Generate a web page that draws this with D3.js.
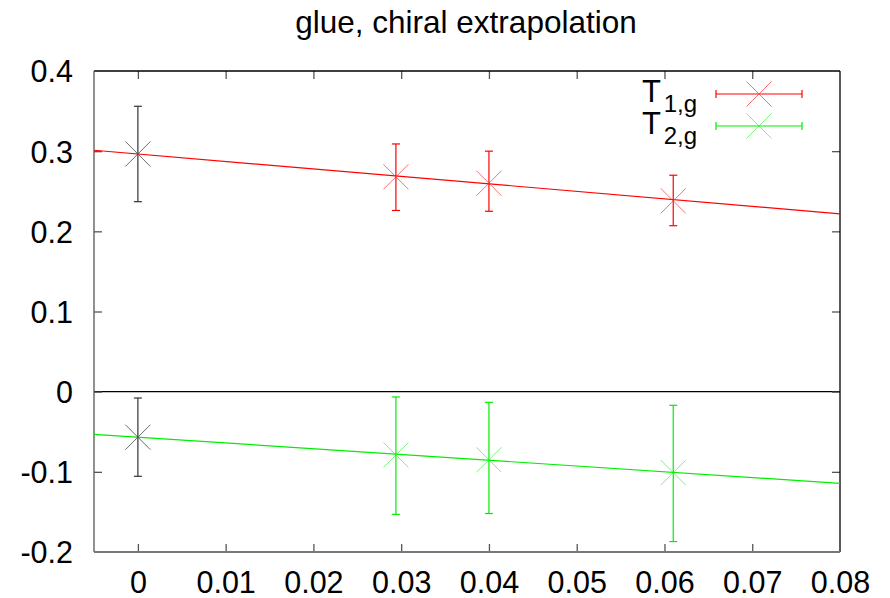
<!DOCTYPE html>
<html><head><meta charset="utf-8">
<script src="https://cdn.jsdelivr.net/npm/d3@7"></script>
<style>body{margin:0;background:#fff}svg{display:block}text{font-family:"Liberation Sans",Arial,sans-serif}</style>
</head><body><svg id="c" width="890" height="598"></svg>
<script>
// data
const xTicks = [0, 0.01, 0.02, 0.03, 0.04, 0.05, 0.06, 0.07, 0.08];
const yTicks = [-0.2, -0.1, 0, 0.1, 0.2, 0.3, 0.4];
const xDomain = [-0.005, 0.08];
const yDomain = [-0.2, 0.4];
const t1x = [0.0294, 0.0400, 0.0610];
const t1y = [0.268, 0.260, 0.238];
const t1lo = [0.226, 0.225, 0.207];
const t1hi = [0.309, 0.300, 0.270];
const t2x = [0.0294, 0.0400, 0.0610];
const t2y = [-0.079, -0.085, -0.101];
const t2lo = [-0.153, -0.152, -0.187];
const t2hi = [-0.0066, -0.0133, -0.017];
const chiralX = [0, 0];
const chiralY = [0.2965, -0.0568];
const chiralLo = [0.237, -0.1056];
const chiralHi = [0.356, -0.0079];
const fit1 = {a: 0.2965, b: -0.933};
const fit2 = {a: -0.0568, b: -0.719};
const title = "glue, chiral extrapolation";
const legendSubs = ["1,g", "2,g"];

const svg = d3.select("#c");
const L = 94, R = 840, T = 71, B = 552;
const x = d3.scaleLinear().domain(xDomain).range([L, R]);
const y = d3.scaleLinear().domain(yDomain).range([B, T]);
const FONT = '"Liberation Sans",Arial,sans-serif';

// title
svg.append("text").attr("x", (L + R) / 2 - 1).attr("y", 33).attr("text-anchor", "middle")
  .attr("font-size", 31.5).text(title);

// zero line
svg.append("line").attr("x1", L).attr("x2", R).attr("y1", y(0)).attr("y2", y(0))
  .attr("stroke", "#000").attr("stroke-width", 1.2);

// axes
const tl = 8;
const fmt = d => String(d);
const gx = svg.append("g").attr("transform", `translate(0,${B})`)
  .call(d3.axisBottom(x).tickValues(xTicks).tickSize(-tl).tickPadding(19).tickFormat(fmt));
const gxt = svg.append("g").attr("transform", `translate(0,${T})`)
  .call(d3.axisTop(x).tickValues(xTicks).tickSize(-tl).tickFormat(""));
const gy = svg.append("g").attr("transform", `translate(${L},0)`)
  .call(d3.axisLeft(y).tickValues(yTicks).tickSize(-tl).tickPadding(21).tickFormat(fmt));
const gyr = svg.append("g").attr("transform", `translate(${R},0)`)
  .call(d3.axisRight(y).tickValues(yTicks).tickSize(-tl).tickFormat(""));
[gx, gxt, gy, gyr].forEach(g => {
  g.select(".domain").remove();
  g.selectAll(".tick line").attr("stroke", "#555").attr("stroke-width", 1.3);
  g.selectAll("text").attr("font-size", 30.5).attr("fill", "#000").attr("font-family", FONT);
});
gx.selectAll("text").attr("dy", "0.71em");
gy.selectAll("text").attr("dy", "0.36em");
gx.selectAll(".tick").filter(d => d === 0.08).select("line").remove();
gxt.selectAll(".tick").filter(d => d === 0.08).select("line").remove();
gy.selectAll(".tick").filter(d => d === 0.4 || d === -0.2).select("line").remove();
gyr.selectAll(".tick").filter(d => d === 0.4 || d === -0.2).select("line").remove();

// border
svg.append("line").attr("x1", L).attr("x2", R).attr("y1", T).attr("y2", T).attr("stroke", "#000").attr("stroke-width", 1.3);
svg.append("line").attr("x1", R).attr("x2", R).attr("y1", T).attr("y2", B).attr("stroke", "#000").attr("stroke-width", 1.3);
svg.append("line").attr("x1", L).attr("x2", L).attr("y1", T).attr("y2", B).attr("stroke", "#555").attr("stroke-width", 1.3);
svg.append("line").attr("x1", L).attr("x2", R).attr("y1", B).attr("y2", B).attr("stroke", "#777").attr("stroke-width", 2);

const plot = svg.append("g");
function fitLine(f, color) {
  const xs = xDomain;
  plot.append("line").attr("x1", x(xs[0])).attr("x2", x(xs[1]))
    .attr("y1", y(f.a + f.b * xs[0])).attr("y2", y(f.a + f.b * xs[1]))
    .attr("stroke", color).attr("stroke-width", 1.2);
}
fitLine(fit1, "#ff0000");
fitLine(fit2, "#00ee00");

const cs = 12.5, cap = 4;
function cross(g, cx, cy, color, op) {
  g.append("line").attr("x1", cx - cs).attr("x2", cx + cs).attr("y1", cy - cs).attr("y2", cy + cs)
    .attr("stroke", color).attr("stroke-width", 1).attr("opacity", op);
  g.append("line").attr("x1", cx - cs).attr("x2", cx + cs).attr("y1", cy + cs).attr("y2", cy - cs)
    .attr("stroke", color).attr("stroke-width", 1).attr("opacity", op);
}
function errPoints(xs, ys, lo, hi, color, crossColor, op) {
  xs.forEach((xv, i) => {
    const cx = x(xv);
    plot.append("line").attr("x1", cx).attr("x2", cx).attr("y1", y(lo[i])).attr("y2", y(hi[i]))
      .attr("stroke", color).attr("stroke-width", 1.2);
    [lo[i], hi[i]].forEach(v => plot.append("line").attr("x1", cx - cap).attr("x2", cx + cap)
      .attr("y1", y(v)).attr("y2", y(v)).attr("stroke", color).attr("stroke-width", 1.2));
    cross(plot, cx, y(ys[i]), crossColor, op);
  });
}
errPoints(t1x, t1y, t1lo, t1hi, "#ff0000", "#ff3333", 0.7);
errPoints(t2x, t2y, t2lo, t2hi, "#00ee00", "#22ee22", 0.6);
errPoints(chiralX, chiralY, chiralLo, chiralHi, "#333", "#555", 0.85);

// legend
const leg = [
  {sub: legendSubs[0], color: "#ff0000", cc: "#ff3333", op: 0.7, y: 94},
  {sub: legendSubs[1], color: "#00ee00", cc: "#22ee22", op: 0.6, y: 126}
];
leg.forEach(d => {
  svg.append("text").attr("x", 661).attr("y", d.y + 8.3).attr("text-anchor", "end")
    .attr("font-size", 31).text("T");
  svg.append("text").attr("x", 697).attr("y", d.y + 17.6).attr("text-anchor", "end")
    .attr("font-size", 24).text(d.sub);
  svg.append("line").attr("x1", 716).attr("x2", 802).attr("y1", d.y).attr("y2", d.y)
    .attr("stroke", d.color).attr("stroke-width", 1.2);
  [716, 802].forEach(xx => svg.append("line").attr("x1", xx).attr("x2", xx)
    .attr("y1", d.y - cap).attr("y2", d.y + cap).attr("stroke", d.color).attr("stroke-width", 1.2));
  cross(svg, 759, d.y, d.cc, d.op);
});
</script></body></html>
